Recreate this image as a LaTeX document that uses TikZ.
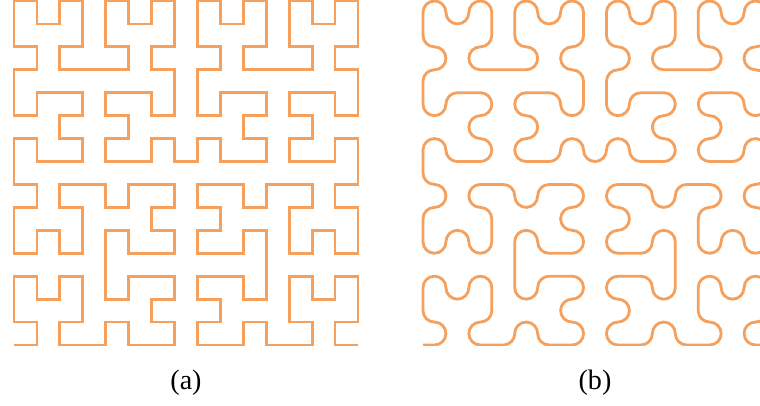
\documentclass[tikz,border=0pt]{standalone}
\usepackage{fontspec}
\setmainfont{Liberation Serif}
\usepackage{xcolor}
\usetikzlibrary{lindenmayersystems}
\definecolor{curveorange}{HTML}{F5A05C}

\pgfdeclarelindenmayersystem{hilbertfour}{
  \rule{A -> +BF-AFA-FB+}
  \rule{B -> -AF+BFB+FA-}
}

\begin{document}
\begin{tikzpicture}[
  hilbert/.style={draw=curveorange, line width=1.6pt, line join=miter,
    lindenmayer system={hilbertfour, axiom=A, order=4, step=0.4587cm, angle=90}},
  smooth hilbert/.style={hilbert, rounded corners=0.2293cm},
  caption/.style={font=\fontsize{16}{18}\selectfont, inner sep=0pt}
]
  \useasboundingbox (0,0) rectangle (15.2,8.1);
  % (a) square corners
  \begin{scope}
    \clip (0,1.2) rectangle (7.6,8.1);
    \begin{scope}[shift={(0.28,1.2)}]
      \draw[hilbert] lindenmayer system;
    \end{scope}
  \end{scope}
  % (b) rounded corners
  \begin{scope}
    \clip (7.6,1.2) rectangle (15.2,8.1);
    \begin{scope}[shift={(8.46,1.2)}]
      \draw[smooth hilbert] lindenmayer system;
    \end{scope}
  \end{scope}
  \node[caption] (capa) at (3.72,0.44) {(a)};
  \node[caption] (capb) at (11.9,0.44) {(b)};
\end{tikzpicture}
\end{document}
